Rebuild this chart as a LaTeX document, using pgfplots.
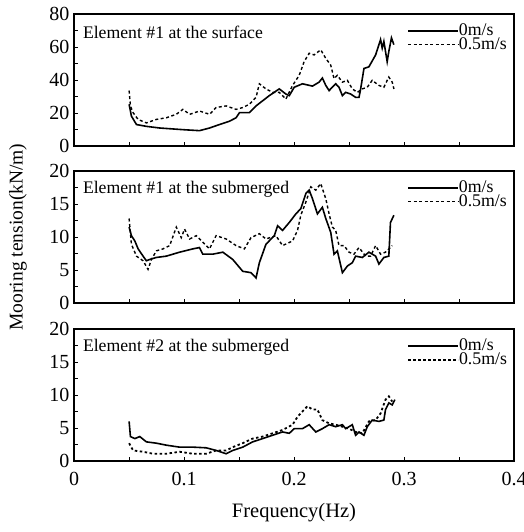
\documentclass[border=0pt]{standalone}
\usepackage{fontspec}
\setmainfont{Liberation Serif}
\usepackage{pgfplots}
\pgfplotsset{compat=1.18}
\tikzset{lab/.style={anchor=west, font=\fontsize{17.7}{18}\selectfont, inner sep=0pt}}
\pgfplotsset{
  panel/.style={
    scale only axis, width=440pt, height=132pt,
    xmin=0, xmax=0.4, xtick={0,0.1,0.2,0.3,0.4},
    minor x tick num=1, minor y tick num=1,
    tick align=inside, xtick pos=bottom, ytick pos=left,
    major tick length=4pt, minor tick length=4pt,
    every tick/.style={black, line width=0.8pt},
    axis line style={line width=1.6pt},
    /pgf/number format/assume math mode=true,
    tick label style={font=\fontsize{20}{22}\selectfont},
    yticklabel style={xshift=-1pt},
    xticklabel style={yshift=-8pt},
    legend style={at={(rel axis cs:0.757,0.925)}, anchor=north west, draw=none, fill=none,
      inner sep=0pt, row sep=0.5pt, font=\fontsize{17.8}{18}\selectfont,
      nodes={inner sep=0pt}, /tikz/every even column/.append style={column sep=0pt}},
    legend cell align=left,
    legend image code/.code={\draw[#1] (0pt,0pt) -- (50pt,0pt);},
  },
  s0/.style={black, line width=1.6pt},
  s5/.style={black, line width=1.4pt, dash pattern=on 3pt off 2.5pt},
}
\begin{document}
\begin{tikzpicture}
% Panel 1
\begin{axis}[panel, at={(74pt,-14pt)}, anchor=north west,
  ymin=0, ymax=80, ytick={0,20,40,60,80}, xticklabels={}]
\addplot[s0] coordinates {
(0.0501,25.3)(0.0522,18.1)(0.0568,13.0)(0.0658,11.9)(0.0779,10.9)(0.0990,9.9)
(0.1141,9.3)(0.1232,10.9)(0.1322,13.0)(0.1413,15.0)(0.1473,17.1)(0.1504,20.2)
(0.1594,20.2)(0.1655,24.3)(0.1715,27.4)(0.1775,30.5)(0.1866,34.6)(0.1926,31.5)
(0.1957,30.5)(0.2002,35.6)(0.2077,37.7)(0.2168,36.3)(0.2228,38.7)(0.2258,41.2)
(0.2289,36.7)(0.2319,33.6)(0.2379,37.7)(0.2409,35.6)(0.2440,30.5)(0.2470,32.5)
(0.2515,31.5)(0.2560,29.5)(0.2591,29.5)(0.2606,34.6)(0.2636,47.0)(0.2681,48.0)
(0.2742,55.2)(0.2787,64.5)(0.2802,59.3)(0.2817,63.4)(0.2847,51.1)(0.2862,57.3)
(0.2886,65.5)(0.2908,61.4)};
\addlegendentry{0m/s}
\addplot[s5] coordinates {
(0.0501,33.6)(0.0513,24.3)(0.0537,20.2)(0.0583,16.1)(0.0658,14.0)(0.0749,16.1)
(0.0839,17.1)(0.0930,19.2)(0.0990,22.2)(0.1051,19.2)(0.1141,21.2)(0.1232,19.2)
(0.1292,23.3)(0.1383,24.3)(0.1473,22.2)(0.1534,23.3)(0.1594,25.3)(0.1655,29.5)
(0.1685,37.7)(0.1745,34.6)(0.1806,32.5)(0.1866,32.5)(0.1926,28.4)(0.1987,36.7)
(0.2047,42.8)(0.2092,51.1)(0.2138,56.2)(0.2183,55.2)(0.2243,58.3)(0.2289,53.1)
(0.2334,49.0)(0.2364,40.8)(0.2394,42.8)(0.2440,38.7)(0.2485,39.8)(0.2530,34.6)
(0.2576,32.5)(0.2621,34.6)(0.2666,35.6)(0.2711,39.8)(0.2772,36.7)(0.2817,35.6)
(0.2862,41.8)(0.2893,38.7)(0.2908,34.6)};
\addlegendentry{0.5m/s}
\node[lab] at (rel axis cs:0.02,0.864) {Element \#1 at the surface};
\end{axis}
% Panel 2
\begin{axis}[panel, at={(74pt,-171pt)}, anchor=north west,
  ymin=0, ymax=20, ytick={0,5,10,15,20}, xticklabels={},
  ylabel={Mooring tension(kN/m)},
  ylabel style={at={(axis description cs:0,0.5)}, yshift=56pt, anchor=center, font=\fontsize{19.5}{20}\selectfont}]
\addplot[s0] coordinates {
(0.0501,11.5)(0.0522,10.2)(0.0553,9.4)(0.0583,8.2)(0.0628,7.1)(0.0658,6.4)
(0.0688,6.6)(0.0749,6.9)(0.0839,7.1)(0.0960,7.7)(0.1081,8.2)(0.1141,8.4)
(0.1171,7.4)(0.1262,7.4)(0.1353,7.7)(0.1443,6.6)(0.1534,4.8)(0.1609,4.6)
(0.1655,3.8)(0.1685,6.1)(0.1745,8.9)(0.1821,10.2)(0.1851,11.7)(0.1896,11.0)
(0.1957,12.2)(0.2017,13.5)(0.2062,14.3)(0.2108,16.6)(0.2138,17.1)(0.2168,15.8)
(0.2213,13.5)(0.2258,14.5)(0.2289,12.8)(0.2334,10.7)(0.2364,7.4)(0.2394,7.9)
(0.2440,4.6)(0.2485,5.6)(0.2530,6.1)(0.2560,7.1)(0.2621,6.9)(0.2681,7.7)
(0.2742,7.1)(0.2772,5.9)(0.2817,6.9)(0.2862,7.1)(0.2877,12.2)(0.2908,13.3)};
\addlegendentry{0m/s}
\addplot[s5] coordinates {
(0.0501,12.8)(0.0522,8.9)(0.0568,7.1)(0.0628,6.4)(0.0673,5.1)(0.0704,6.6)
(0.0749,7.9)(0.0809,8.2)(0.0870,8.7)(0.0930,11.5)(0.0975,9.9)(0.1005,11.2)
(0.1051,9.7)(0.1111,10.2)(0.1171,9.2)(0.1232,8.2)(0.1292,10.2)(0.1383,9.7)
(0.1473,8.7)(0.1549,8.2)(0.1609,9.9)(0.1685,10.5)(0.1745,9.7)(0.1836,10.2)
(0.1896,8.7)(0.1987,9.4)(0.2032,11.0)(0.2062,13.3)(0.2108,15.3)(0.2153,17.6)
(0.2198,17.1)(0.2243,18.1)(0.2289,15.8)(0.2319,13.5)(0.2349,11.5)(0.2379,11.0)
(0.2409,8.7)(0.2455,8.7)(0.2500,7.7)(0.2545,7.4)(0.2591,8.4)(0.2651,7.1)
(0.2696,7.1)(0.2742,8.7)(0.2787,7.4)(0.2832,7.7)(0.2893,8.7)};
\addlegendentry{0.5m/s}
\node[lab] at (rel axis cs:0.02,0.864) {Element \#1 at the submerged};
\end{axis}
% Panel 3
\begin{axis}[panel, at={(74pt,-329pt)}, anchor=north west,
  ymin=0, ymax=20, ytick={0,5,10,15,20},
  xticklabels={0,0.1,0.2,0.3,0.4},
  xlabel={Frequency(Hz)},
  xlabel style={at={(axis description cs:0.5,0)}, yshift=-52pt, anchor=center, font=\fontsize{20.5}{21}\selectfont}]
\addplot[s0] coordinates {
(0.0501,6.0)(0.0513,3.7)(0.0553,3.4)(0.0598,3.7)(0.0658,2.9)(0.0749,2.7)
(0.0839,2.4)(0.0960,2.1)(0.1081,2.1)(0.1202,2.0)(0.1292,1.6)(0.1383,1.1)
(0.1443,1.6)(0.1534,2.1)(0.1624,2.9)(0.1715,3.4)(0.1806,3.9)(0.1896,4.4)
(0.1957,4.2)(0.2002,4.9)(0.2077,4.9)(0.2138,5.5)(0.2198,4.4)(0.2258,4.9)
(0.2319,5.5)(0.2379,5.2)(0.2440,5.5)(0.2470,4.9)(0.2530,5.5)(0.2560,3.9)
(0.2591,4.4)(0.2636,3.9)(0.2666,5.2)(0.2711,6.2)(0.2772,6.0)(0.2817,6.2)
(0.2832,7.8)(0.2862,8.8)(0.2893,8.5)(0.2917,9.3)};
\addlegendentry{0m/s}
\addplot[black, line width=1.8pt, dash pattern=on 2.5pt off 2.5pt] coordinates {
(0.0501,2.7)(0.0537,1.6)(0.0628,1.4)(0.0719,1.1)(0.0839,1.1)(0.0960,1.4)
(0.1081,1.1)(0.1202,1.1)(0.1292,1.6)(0.1383,1.6)(0.1443,2.1)(0.1534,2.7)
(0.1624,3.4)(0.1715,3.7)(0.1806,4.2)(0.1896,4.7)(0.1987,5.5)(0.2032,6.7)
(0.2077,7.5)(0.2122,8.3)(0.2168,7.8)(0.2213,7.8)(0.2258,6.2)(0.2319,5.7)
(0.2379,5.5)(0.2440,5.2)(0.2500,4.9)(0.2560,4.4)(0.2621,4.2)(0.2681,6.0)
(0.2742,6.2)(0.2787,7.2)(0.2832,9.3)(0.2862,9.8)(0.2893,9.0)};
\addlegendentry{0.5m/s}
\node[lab] at (rel axis cs:0.02,0.864) {Element \#2 at the submerged};
\end{axis}
\pgfresetboundingbox
\path[use as bounding box] (0,0) rectangle (523pt,-532pt);
\end{tikzpicture}
\end{document}
